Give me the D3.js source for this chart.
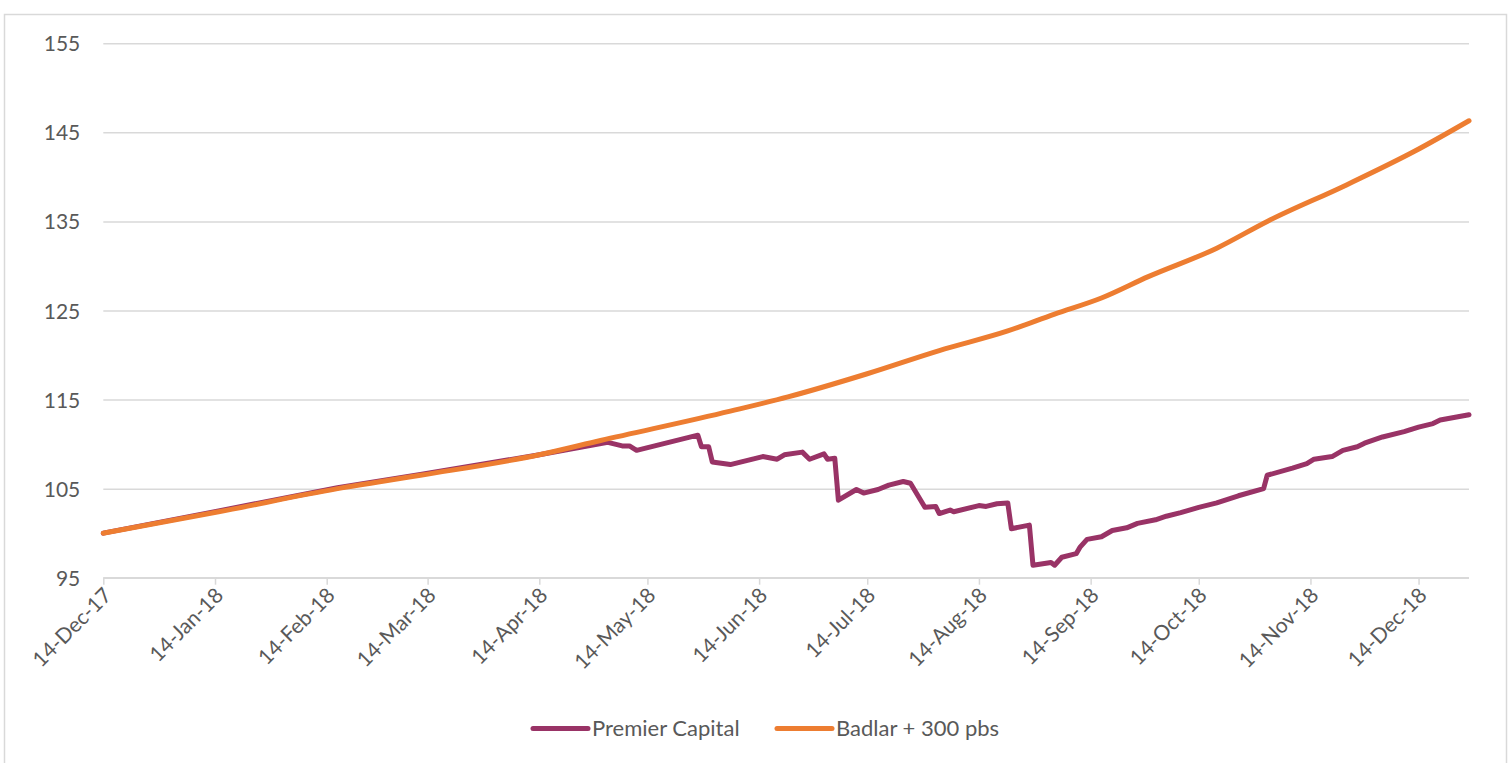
<!DOCTYPE html>
<html>
<head>
<meta charset="utf-8">
<script src="https://cdn.jsdelivr.net/npm/d3@7/dist/d3.min.js"></script>
<style>
  html, body { margin: 0; padding: 0; background: #fff; }
  svg { display: block; }
  text { font-family: Lato, "Open Sans", sans-serif; fill: #595959; }
</style>
</head>
<body>
<svg id="chart" width="1510" height="763"></svg>
<script>
// ---- Data ----
const seriesNames = ["Premier Capital", "Badlar + 300 pbs"];
const seriesColors = ["#993366", "#ED7D31"];

const premierDates = [
  "2017-12-14","2018-01-15","2018-02-17","2018-03-12","2018-04-14","2018-05-03",
  "2018-05-07","2018-05-09","2018-05-11","2018-05-28","2018-05-29","2018-05-31",
  "2018-06-01","2018-06-06","2018-06-15","2018-06-19","2018-06-21","2018-06-26",
  "2018-06-28","2018-07-02","2018-07-03","2018-07-05","2018-07-06","2018-07-11",
  "2018-07-13","2018-07-17","2018-07-20","2018-07-24","2018-07-26","2018-07-30",
  "2018-08-02","2018-08-03","2018-08-06","2018-08-07","2018-08-14","2018-08-16",
  "2018-08-19","2018-08-22","2018-08-23","2018-08-28","2018-08-29","2018-09-03",
  "2018-09-04","2018-09-06","2018-09-10","2018-09-11","2018-09-13","2018-09-17",
  "2018-09-20","2018-09-24","2018-09-27","2018-10-02","2018-10-05","2018-10-09",
  "2018-10-14","2018-10-19","2018-10-25","2018-11-01","2018-11-02","2018-11-09",
  "2018-11-13","2018-11-15","2018-11-20","2018-11-23","2018-11-27","2018-11-29",
  "2018-12-04","2018-12-10","2018-12-14","2018-12-18","2018-12-20","2018-12-28"
];
const premierValues = [
  100.0, 102.5, 105.1, 106.6, 108.8, 110.2,
  109.8, 109.8, 109.3, 111.0, 109.7, 109.7,
  108.0, 107.7, 108.6, 108.3, 108.8, 109.1,
  108.3, 108.9, 108.3, 108.4, 103.7, 104.9,
  104.5, 104.9, 105.4, 105.8, 105.6, 102.9,
  103.0, 102.2, 102.6, 102.4, 103.1, 103.0,
  103.3, 103.4, 100.5, 100.9, 96.4, 96.7,
  96.4, 97.3, 97.7, 98.4, 99.3, 99.6,
  100.3, 100.6, 101.1, 101.5, 101.9, 102.3,
  102.9, 103.4, 104.2, 105.0, 106.5, 107.3,
  107.8, 108.3, 108.6, 109.3, 109.7, 110.1,
  110.8, 111.4, 111.9, 112.3, 112.7, 113.3
];

const badlarDates = [
  "2017-12-14","2018-01-15","2018-02-17","2018-03-12","2018-04-14",
  "2018-05-01","2018-06-06","2018-06-22","2018-07-14","2018-08-03","2018-08-22",
  "2018-09-04","2018-09-17","2018-09-30","2018-10-19","2018-11-02","2018-11-24",
  "2018-12-13","2018-12-28"
];
const badlarValues = [
  100.0, 102.4, 105.0, 106.5, 108.8,
  110.4, 113.7, 115.3, 117.9, 120.5, 122.7,
  124.6, 126.4, 128.8, 132.0, 135.0, 139.1,
  142.9, 146.3
];

const yTicks = [95, 105, 115, 125, 135, 145, 155];
const xTickDates = [
  "2017-12-14","2018-01-14","2018-02-14","2018-03-14","2018-04-14","2018-05-14",
  "2018-06-14","2018-07-14","2018-08-14","2018-09-14","2018-10-14","2018-11-14","2018-12-14"
];

// ---- Layout ----
const parse = d3.timeParse("%Y-%m-%d");
const fmt = d3.timeFormat("%d-%b-%y");
const svg = d3.select("#chart");

const plot = { left: 103.3, right: 1469, top: 43.3, bottom: 577.7 };

const x = d3.scaleTime()
  .domain([parse("2017-12-14"), parse("2018-12-28")])
  .range([plot.left, plot.right]);
const y = d3.scaleLinear()
  .domain([95, 155])
  .range([plot.bottom, plot.top]);

// chart border
svg.append("rect")
  .attr("x", 4.5).attr("y", 14.5)
  .attr("width", 1502).attr("height", 760)
  .attr("fill", "none").attr("stroke", "#d9d9d9").attr("stroke-width", 1.5);

// gridlines
const grid = svg.append("g")
  .attr("transform", `translate(${plot.left},0)`)
  .call(d3.axisLeft(y).tickValues(yTicks).tickSize(-(plot.right - plot.left)).tickFormat(""));
grid.select(".domain").remove();
grid.selectAll("line").attr("stroke", "#d9d9d9").attr("stroke-width", 1.5);

// y labels
const yAxis = svg.append("g")
  .attr("transform", `translate(${plot.left - 23},0)`)
  .call(d3.axisLeft(y).tickValues(yTicks).tickSize(0).tickPadding(0));
yAxis.select(".domain").remove();
yAxis.selectAll("text")
  .style("font-size", "21px")
  .attr("fill", "#595959")
  .attr("dy", "0.36em");

// x axis
const xAxis = svg.append("g")
  .attr("transform", `translate(0,${plot.bottom})`)
  .call(d3.axisBottom(x).tickValues(xTickDates.map(parse)).tickSize(7).tickFormat(fmt));
xAxis.select(".domain").attr("stroke", "#d9d9d9").attr("stroke-width", 1.5)
  .attr("d", `M${plot.left},0H${plot.right}`);
xAxis.selectAll(".tick line").attr("stroke", "#d9d9d9").attr("stroke-width", 1.5);
xAxis.selectAll(".tick text")
  .style("font-size", "21px")
  .attr("fill", "#595959")
  .attr("text-anchor", "end")
  .attr("dy", null)
  .attr("y", null)
  .attr("transform", "translate(9,19) rotate(-45)");

// lines
const premier = premierDates.map((d, i) => ({ date: parse(d), value: premierValues[i] }));
const badlar = badlarDates.map((d, i) => ({ date: parse(d), value: badlarValues[i] }));

const linePremier = d3.line()
  .x(d => x(d.date))
  .y(d => y(d.value))
  .curve(d3.curveLinear);
const lineBadlar = d3.line()
  .x(d => x(d.date))
  .y(d => y(d.value))
  .curve(d3.curveMonotoneX);

svg.append("path").datum(premier)
  .attr("d", linePremier).attr("fill", "none")
  .attr("stroke", seriesColors[0]).attr("stroke-width", 5)
  .attr("stroke-linejoin", "round").attr("stroke-linecap", "round");
svg.append("path").datum(badlar)
  .attr("d", lineBadlar).attr("fill", "none")
  .attr("stroke", seriesColors[1]).attr("stroke-width", 5)
  .attr("stroke-linejoin", "round").attr("stroke-linecap", "round");

// legend
const legendItems = [
  { name: seriesNames[0], color: seriesColors[0], x: 533 },
  { name: seriesNames[1], color: seriesColors[1], x: 777 }
];
const lg = svg.append("g");
legendItems.forEach(it => {
  lg.append("line")
    .attr("x1", it.x).attr("x2", it.x + 55)
    .attr("y1", 728.5).attr("y2", 728.5)
    .attr("stroke", it.color).attr("stroke-width", 5).attr("stroke-linecap", "round");
  lg.append("text")
    .attr("x", it.x + 59).attr("y", 728.5).attr("dy", "0.36em")
    .style("font-size", "22px")
    .text(it.name);
});
</script>
</body>
</html>
